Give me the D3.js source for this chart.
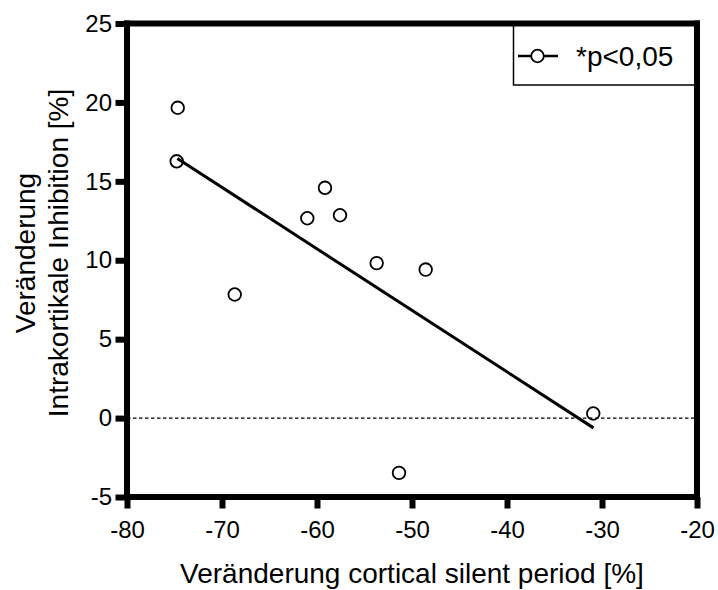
<!DOCTYPE html>
<html>
<head>
<meta charset="utf-8">
<script src="https://cdn.jsdelivr.net/npm/d3@7"></script>
<style>
  html, body { margin: 0; padding: 0; background: #fff; }
  svg { display: block; font-family: "Liberation Sans", Arial, sans-serif; }
</style>
</head>
<body>
<svg id="chart" width="718" height="590"></svg>
<script>
// ---- data ----
const xValues = [-74.66, -74.77, -59.16, -61.02, -57.58, -53.72, -68.66, -48.56, -30.92, -51.37];
const yValues = [19.66, 16.27, 14.59, 12.66, 12.85, 9.82, 7.83, 9.41, 0.29, -3.47];
const fitX = [-74.7, -30.9];
const fitY = [16.45, -0.62];
const xTicks = [-80, -70, -60, -50, -40, -30, -20];
const yTicks = [-5, 0, 5, 10, 15, 20, 25];
const xTitle = "Veränderung cortical silent period [%]";
const yTitleLines = ["Veränderung", "Intrakortikale Inhibition [%]"];
const legendLabel = "*p<0,05";

// ---- layout ----
const svg = d3.select("#chart");
const L = 127, R = 697, T = 23.5, B = 497;
const W = 6;       // axis line thickness
const TK = 11.5;   // tick length from axis centre
const x = d3.scaleLinear().domain([-80, -20]).range([L, R]);
const y = d3.scaleLinear().domain([-5, 25]).range([B, T]);
const fmt = d => String(d);

// zero reference line
svg.append("line")
  .attr("x1", L).attr("x2", R)
  .attr("y1", y(0)).attr("y2", y(0))
  .style("stroke", "#000").style("stroke-width", "1.1px")
  .style("stroke-dasharray", "3.5,2.5");

// regression line
svg.append("path")
  .datum(fitX.map((d, i) => [d, fitY[i]]))
  .attr("d", d3.line().x(d => x(d[0])).y(d => y(d[1])))
  .style("fill", "none").style("stroke", "#000").style("stroke-width", "3px");

// points
svg.append("g").selectAll("circle")
  .data(xValues.map((d, i) => [d, yValues[i]]))
  .join("circle")
  .attr("cx", d => x(d[0])).attr("cy", d => y(d[1]))
  .attr("r", 6.3)
  .style("fill", "none").style("stroke", "#000").style("stroke-width", "1.8px");

// legend
const lg = svg.append("g");
lg.append("rect")
  .attr("x", 513.5).attr("y", T).attr("width", R - 513.5).attr("height", 85 - T)
  .style("fill", "#fff").style("stroke", "#000").style("stroke-width", "1.5px");
lg.append("line")
  .attr("x1", 518).attr("x2", 558).attr("y1", 56).attr("y2", 56)
  .style("stroke", "#000").style("stroke-width", "2.5px");
lg.append("circle")
  .attr("cx", 537.5).attr("cy", 56).attr("r", 6.3)
  .style("fill", "#fff").style("stroke", "#000").style("stroke-width", "1.8px");
lg.append("text")
  .attr("x", 576).attr("y", 65.5)
  .attr("font-size", 28).attr("fill", "#000")
  .text(legendLabel);

// axes (labels via d3 axes, tick marks as solid bars)
const xAxis = d3.axisBottom(x).tickValues(xTicks).tickFormat(fmt)
  .tickSize(TK).tickSizeOuter(0).tickPadding(12.5);
const gx = svg.append("g").attr("transform", `translate(0,${B})`).call(xAxis);
gx.select(".domain").remove();
gx.selectAll(".tick line").remove();
gx.selectAll(".tick").append("rect")
  .attr("x", -W / 2).attr("y", 0).attr("width", W).attr("height", TK)
  .attr("fill", "#000");
gx.selectAll(".tick text").attr("font-size", 24).attr("fill", "#000")
  .attr("font-family", "Liberation Sans, Arial, sans-serif");

const yAxis = d3.axisLeft(y).tickValues(yTicks).tickFormat(fmt)
  .tickSize(TK).tickSizeOuter(0).tickPadding(3.5);
const gy = svg.append("g").attr("transform", `translate(${L},0)`).call(yAxis);
gy.select(".domain").remove();
gy.selectAll(".tick line").remove();
gy.selectAll(".tick").append("rect")
  .attr("x", -TK).attr("y", -W / 2).attr("width", TK).attr("height", W)
  .attr("fill", "#000");
gy.selectAll(".tick text").attr("font-size", 24).attr("fill", "#000")
  .attr("font-family", "Liberation Sans, Arial, sans-serif");

// frame as solid bars
const frame = svg.append("g").attr("fill", "#000");
frame.append("rect").attr("x", L - W / 2).attr("y", T - W / 2).attr("width", R - L + W).attr("height", W);
frame.append("rect").attr("x", L - W / 2).attr("y", B - W / 2).attr("width", R - L + W).attr("height", W);
frame.append("rect").attr("x", L - W / 2).attr("y", T - W / 2).attr("width", W).attr("height", B - T + W);
frame.append("rect").attr("x", R - W / 2).attr("y", T - W / 2).attr("width", W).attr("height", B - T + W);

// titles
svg.append("text")
  .attr("x", (L + R) / 2).attr("y", 583)
  .attr("text-anchor", "middle").attr("font-size", 28).attr("fill", "#000")
  .text(xTitle);

const yt = svg.append("g").attr("transform", "translate(0,253) rotate(-90)");
yTitleLines.forEach((t, i) => {
  yt.append("text")
    .attr("x", 0).attr("y", 35 + i * 33)
    .attr("text-anchor", "middle").attr("font-size", 28).attr("fill", "#000")
    .text(t);
});
</script>
</body>
</html>
